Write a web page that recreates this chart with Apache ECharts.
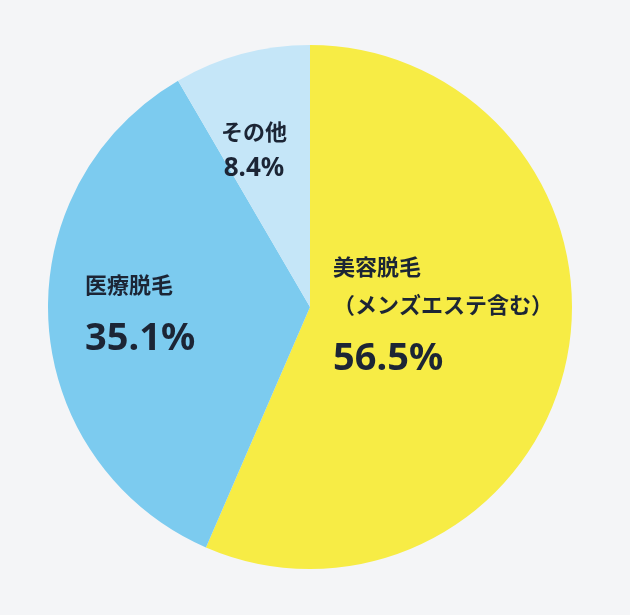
<!DOCTYPE html>
<html><head><meta charset="utf-8">
<script src="https://cdn.jsdelivr.net/npm/echarts@6/dist/echarts.min.js"></script>
<style>html,body{margin:0;background:#f4f5f7;}#c{width:630px;height:615px;}</style>
</head><body><div id="c"></div>
<script>
const categories = ['美容脱毛\n（メンズエステ含む）', '医療脱毛', 'その他'];
const values = [56.5, 35.1, 8.4];
const colors = ['#f7ec45', '#7ccbef', '#c5e6f8'];
const labelPos = [[333, 248, 'left'], [85, 266, 'left'], [254, 113, 'center']];
const chart = echarts.init(document.getElementById('c'));
chart.setOption({
  backgroundColor: '#f4f5f7',
  series: [{
    type: 'pie', center: [310, 307], radius: [0, 262], startAngle: 90, clockwise: true,
    silent: true,
    data: categories.map((n, i) => ({ name: n, value: values[i], itemStyle: { color: colors[i] } })),
    label: {
      position: 'inside',
      fontFamily: 'Noto Sans CJK JP',
      color: '#1c2535',
      formatter: p => {
        const big = p.dataIndex === 2 ? 'sm' : 'big';
        const lines = p.name.split('\n').map(l => '{n|' + l + '}').join('\n');
        return lines + '\n{' + big + '|' + p.value.toFixed(1) + '%}';
      },
      rich: {
        n: { fontSize: 22, fontWeight: 'bold', lineHeight: 38, fontFamily: 'Noto Sans CJK JP', color: '#1c2535' },
        big: { fontSize: 38, fontWeight: 'bold', lineHeight: 62, fontFamily: 'Noto Sans', color: '#1c2535', padding: [8, 0, 0, 0] },
        sm: { fontSize: 26, fontWeight: 'bold', lineHeight: 36, fontFamily: 'Noto Sans', color: '#1c2535' }
      }
    },
    labelLayout: p => {
      const q = labelPos[p.dataIndex];
      return { x: q[0], y: q[1], align: q[2], verticalAlign: 'top' };
    },
    labelLine: { show: false }
  }]
});
</script></body></html>
